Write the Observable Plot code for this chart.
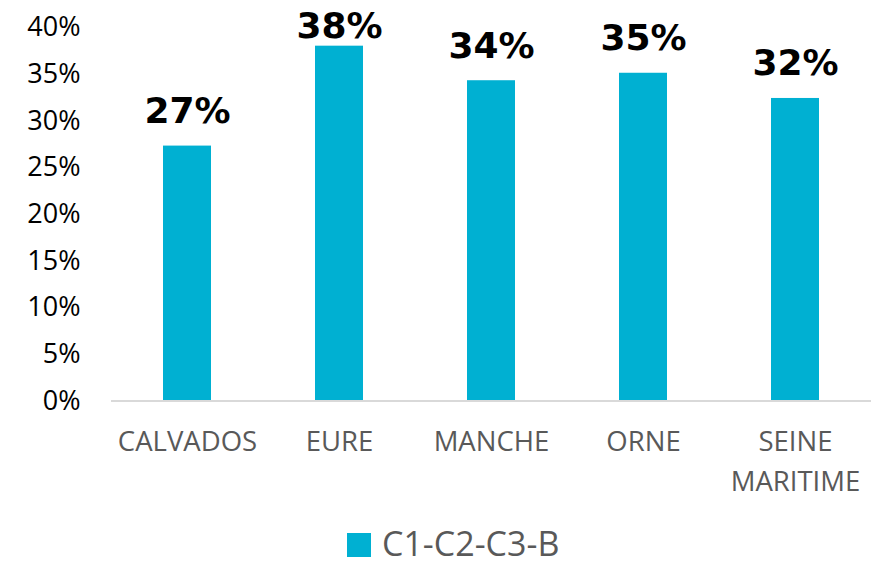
<!DOCTYPE html>
<html>
<head>
<meta charset="utf-8">
<script src="https://cdn.jsdelivr.net/npm/d3@7"></script>
<script src="https://cdn.jsdelivr.net/npm/@observablehq/plot@0.6"></script>
<style>
  html, body { margin: 0; padding: 0; background: #fff; }
  #chart svg { display: block; }
  #legend { height: 46px; display: flex; align-items: center; justify-content: flex-start; padding-left: 347px; font-family: "Open Sans", sans-serif; font-size: 34px; color: #595959; }
  #legend .sw { width: 24px; height: 24px; background: #00B0D2; margin-right: 11px; flex: none; margin-top: 4px; }
  #legend span { line-height: 46px; display: block; }
</style>
</head>
<body>
<div id="chart"></div>
<div id="legend"><div class="sw"></div><span id="serie"></span></div>
<script>
const departements = ["CALVADOS", "EURE", "MANCHE", "ORNE", "SEINE MARITIME"];
const parts = [27.3, 38.0, 34.3, 35.1, 32.4];
const yTicks = [0, 5, 10, 15, 20, 25, 30, 35, 40];
const serie = "C1-C2-C3-B";

document.getElementById("serie").textContent = serie;
const data = departements.map((d, i) => ({dep: d, v: parts[i]}));
const yMax = 40;
// labels that would run past the top of the plot are pulled down (as in the original)
const nearTop = d => d.v > yMax - 3;

const chart = Plot.plot({
  width: 873,
  height: 520,
  marginLeft: 111,
  marginRight: 2,
  marginTop: 27,
  marginBottom: 119.5,
  style: {background: "#fff"},
  x: {domain: departements, paddingInner: 0.684, paddingOuter: 0.342, label: null},
  y: {domain: [0, yMax], label: null},
  marks: [
    Plot.axisY({ticks: yTicks, tickSize: 0, tickPadding: 31, tickFormat: d => d + "%", fontSize: 27, fontFamily: "Open Sans", fill: "#000", label: null}),
    Plot.barY(data, {x: "dep", y: "v", fill: "#00B0D2"}),
    Plot.ruleY([0], {stroke: "#d9d9d9", strokeWidth: 2}),
    Plot.axisX({tickSize: 0, tickPadding: 22, fontSize: 27.5, fontFamily: "Open Sans", fill: "#595959", lineHeight: 1.45, tickFormat: d => d.replace(" ", "\n"), label: null}),
    Plot.text(data.filter(d => !nearTop(d)), {x: "dep", y: "v", text: d => Math.round(d.v) + "%", lineAnchor: "bottom", dy: -23, fontSize: 36, fontWeight: "bold", fontFamily: "DejaVu Sans", fill: "#000"}),
    Plot.text(data.filter(nearTop), {x: "dep", y: "v", text: d => Math.round(d.v) + "%", lineAnchor: "bottom", dy: -8, fontSize: 36, fontWeight: "bold", fontFamily: "DejaVu Sans", fill: "#000"})
  ]
});
document.getElementById("chart").appendChild(chart);
</script>
</body>
</html>
